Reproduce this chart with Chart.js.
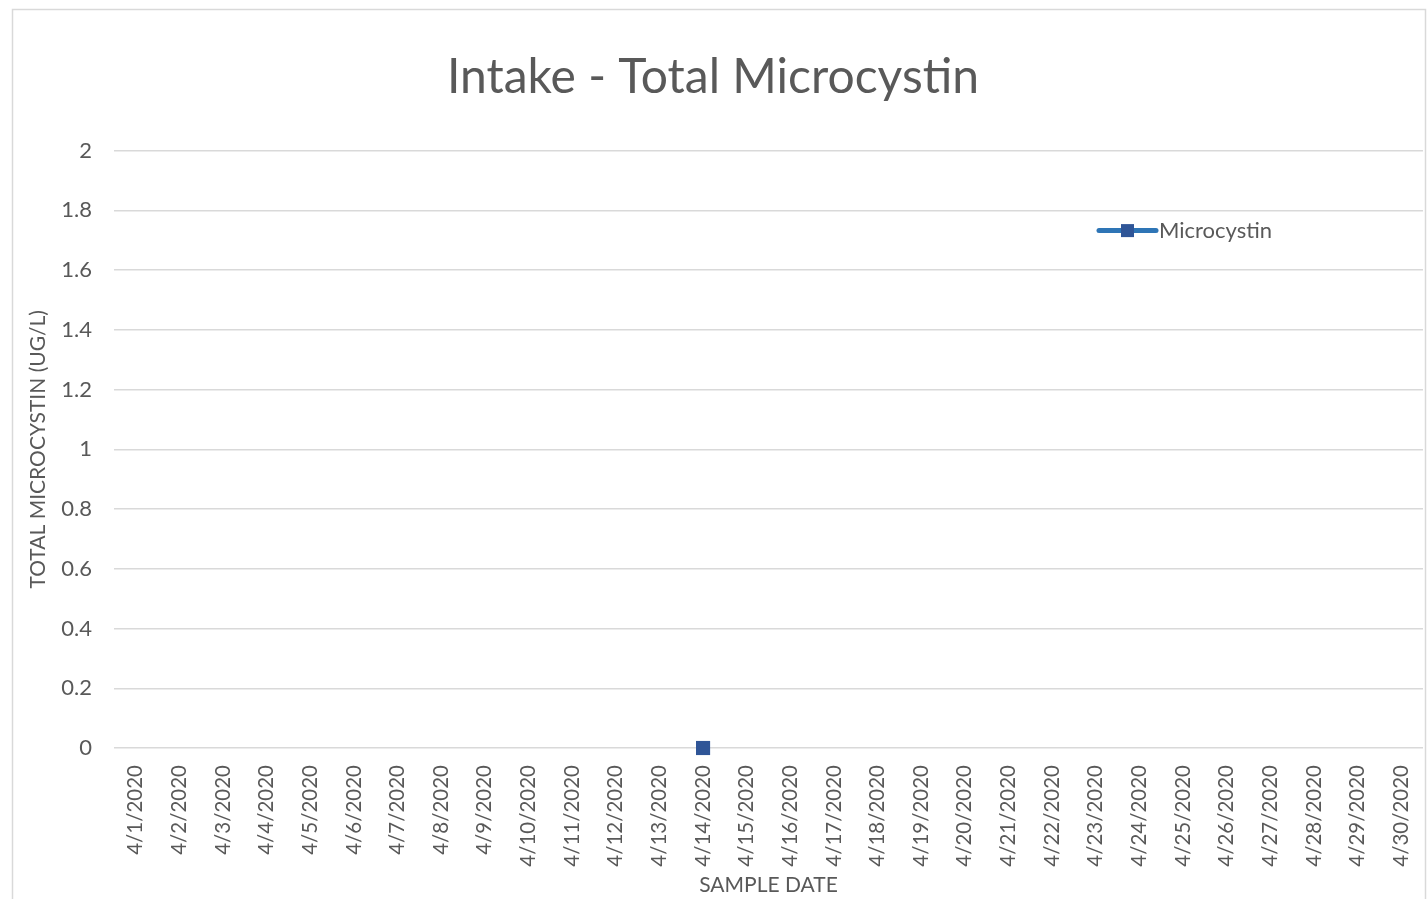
<!DOCTYPE html>
<html>
<head>
<meta charset="utf-8">
<script src="https://cdn.jsdelivr.net/npm/chart.js@4/dist/chart.umd.min.js"></script>
<style>
    html, body { margin: 0; padding: 0; background: #fff; }
    #wrap { width: 1428px; height: 899px; }
</style>
</head>
<body>
<div id="wrap"><canvas id="chart" width="1428" height="899"></canvas></div>
<script>
// sample dates (x axis)
const sampleDates = [
    '4/1/2020', '4/2/2020', '4/3/2020', '4/4/2020', '4/5/2020', '4/6/2020',
    '4/7/2020', '4/8/2020', '4/9/2020', '4/10/2020', '4/11/2020', '4/12/2020',
    '4/13/2020', '4/14/2020', '4/15/2020', '4/16/2020', '4/17/2020', '4/18/2020',
    '4/19/2020', '4/20/2020', '4/21/2020', '4/22/2020', '4/23/2020', '4/24/2020',
    '4/25/2020', '4/26/2020', '4/27/2020', '4/28/2020', '4/29/2020', '4/30/2020'
];
// total microcystin, ug/L (only one sample taken)
const microcystin = [
    null, null, null, null, null, null, null, null, null, null, null, null, null,
    0,
    null, null, null, null, null, null, null, null, null, null, null, null, null, null, null, null
];
const yMin = 0;
const yMax = 2;
const yStep = 0.2;

const FONT = 'Lato, "Open Sans", sans-serif';
const TEXT = '#595959';
const GRID = '#D9D9D9';

// outer frame of the chart
const framePlugin = {
    id: 'frame',
    beforeDraw(chart) {
        const ctx = chart.ctx;
        ctx.save();
        ctx.strokeStyle = GRID;
        ctx.lineWidth = 1.5;
        ctx.strokeRect(12.5, 9.5, 1413, 920);
        ctx.restore();
    }
};

// legend drawn inside the plot, top right
const insideLegend = {
    id: 'insideLegend',
    afterDraw(chart) {
        const ds = chart.data.datasets[0];
        const area = chart.chartArea;
        const ctx = chart.ctx;
        const x0 = area.right - 324;
        const y = area.top + 80;
        ctx.save();
        ctx.strokeStyle = ds.borderColor;
        ctx.lineWidth = 5;
        ctx.lineCap = 'round';
        ctx.beginPath();
        ctx.moveTo(x0, y);
        ctx.lineTo(x0 + 57, y);
        ctx.stroke();
        ctx.fillStyle = ds.pointBackgroundColor;
        ctx.fillRect(x0 + 22, y - 6.5, 13, 13);
        ctx.fillStyle = TEXT;
        ctx.font = '22px ' + FONT;
        ctx.textBaseline = 'middle';
        ctx.fillText(ds.label, x0 + 60, y);
        ctx.restore();
    }
};

new Chart(document.getElementById('chart'), {
    type: 'line',
    data: {
        labels: sampleDates,
        datasets: [{
            label: 'Microcystin',
            data: microcystin,
            borderColor: '#2E75B6',
            borderWidth: 4,
            pointStyle: 'rect',
            pointRadius: 10,
            pointBorderWidth: 0,
            pointBackgroundColor: '#2F5597',
            pointBorderColor: '#2F5597',
            spanGaps: false,
            clip: false
        }]
    },
    options: {
        responsive: false,
        animation: false,
        layout: {
            autoPadding: false,
            padding: { left: 3, right: 5, top: 0, bottom: 0 }
        },
        plugins: {
            legend: { display: false },
            tooltip: { enabled: false },
            title: {
                display: true,
                text: 'Intake - Total Microcystin',
                color: TEXT,
                font: { family: FONT, size: 48, weight: 'normal', lineHeight: 1.2 },
                padding: { top: 49, bottom: 44 }
            }
        },
        scales: {
            x: {
                offset: true,
                grid: { display: false },
                border: { display: false },
                ticks: {
                    color: TEXT,
                    font: { family: FONT, size: 20.5 },
                    minRotation: 90,
                    maxRotation: 90,
                    autoSkip: false,
                    padding: 9
                },
                title: {
                    display: true,
                    text: 'SAMPLE DATE',
                    color: TEXT,
                    font: { family: FONT, size: 21 },
                    padding: { top: 0, bottom: 1 }
                },
                afterFit(scale) {
                    scale.height = 151;
                    scale.paddingLeft = 0;
                    scale.paddingRight = 0;
                }
            },
            y: {
                min: yMin,
                max: yMax,
                ticks: {
                    stepSize: yStep,
                    color: TEXT,
                    font: { family: FONT, size: 22 },
                    padding: 22,
                    callback: (v) => String(+v.toFixed(1))
                },
                grid: { color: GRID, lineWidth: 1.5, drawTicks: false },
                border: { display: false },
                title: {
                    display: true,
                    text: 'TOTAL MICROCYSTIN (UG/L)',
                    color: TEXT,
                    font: { family: FONT, size: 21 },
                    padding: { top: 23, bottom: 0 }
                },
                afterFit(scale) { scale.width = 111; }
            }
        }
    },
    plugins: [framePlugin, insideLegend]
});
</script>
</body>
</html>
